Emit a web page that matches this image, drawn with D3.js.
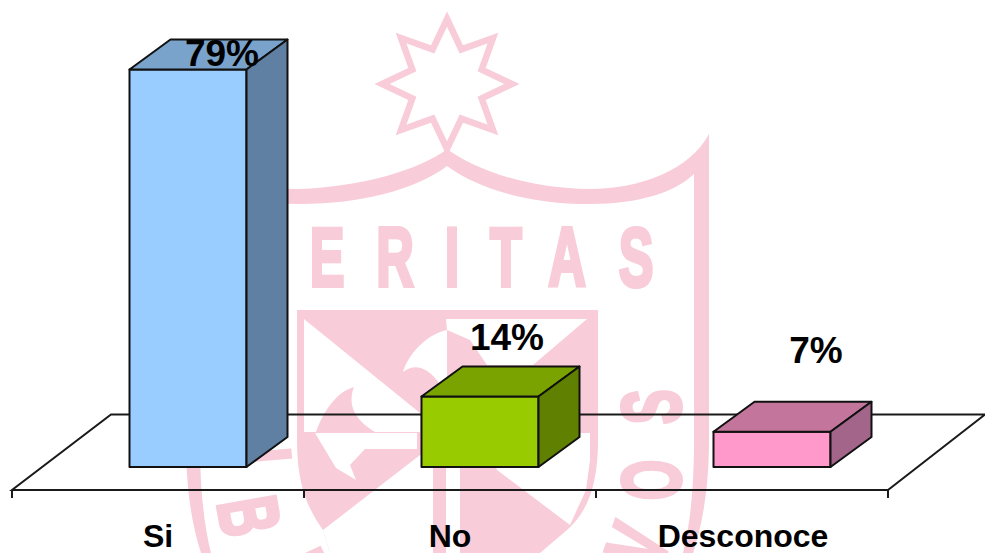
<!DOCTYPE html>
<html><head><meta charset="utf-8"><script src="https://cdn.jsdelivr.net/npm/d3@7"></script>
<style>html,body{margin:0;background:#fff}svg{display:block}</style></head><body>
<svg id="c" width="985" height="553"></svg>
<script>
const categories=["Si","No","Desconoce"];
const values=[79,14,7];
const labels=["79%","14%","7%"];
const frontColors=["#99ccff","#99cc00","#ff99cc"];
const topColors=["#7aa3cc","#7aa300","#c4759c"];
const sideColors=["#5f7fa3","#5f8000","#a3658a"];
const W="#f8ccd8";
const svg=d3.select("#c");

// watermark
const wm=svg.append("g");
const star=d3.range(16).map(i=>{const r=i%2?37.5:65,a=i*Math.PI/8;return [447+r*Math.sin(a),84-r*Math.cos(a)];});
wm.append("path").attr("d",d3.line()(star)+"Z").attr("fill","none").attr("stroke",W).attr("stroke-width",6.5).attr("stroke-linejoin","miter");
// shield outline
wm.append("path").attr("fill",W).attr("fill-rule","evenodd").attr("d",
 "M186,134 C205,175 260,190 300,189 C360,187 420,170 447,149 C475,170 530,189 590,189 C640,189 690,170 709,134 L709,440 C709,490 702,525 693,553 L201,553 C192,525 186,490 186,440 Z "+
 "M200,176 C225,195 260,204 300,204 C360,204 415,190 447,166 C480,190 530,204 590,204 C640,204 675,192 694,174 L694,440 C694,490 690,525 683,553 L211,553 C204,525 200,490 200,440 Z");
// crest panel
wm.append("path").attr("fill",W).attr("d","M297,310 H598 V440 C598,480 590,510 567,530 L540,553 H330 L323,530 C305,505 297,480 297,440 Z");
const whites=[
 "M304,319 L420,413 L420,432 L304,432 Z",
 "M446,319 H587 L533,365 H487 L470,340 L447,330 Z",
 "M447,330 C425,335 408,355 403,372 C415,362 430,368 440,385 L447,400 Z",
 "M315,433 H417 V449 H365 L350,465 L356,480 L336,468 Z",
 "M480,433 H590 V460 L586,490 L570,525 L497,470 Z",
 "M420,455 L323,530 L330,553 H433 V455 Z",
 "M446,440 H460 V553 H446 Z"
];
wm.selectAll("path.w").data(whites).join("path").attr("class","w").attr("fill","#fff").attr("d",d=>d);
wm.append("path").attr("fill",W).attr("d","M354,387 C335,392 322,415 316,432 H375 C355,420 347,405 354,387 Z");
const letters=[["E",327,256,0],["R",395,256,0],["I",452,256,0],["T",506,256,0],["A",567,256,0],["S",636,256,0],
 ["S",650,407,-90],["O",650,480,-90],["V",637,545,-70],["I",262,456,85],["B",250,516,80],["E",300,572,65]];
wm.selectAll("text.l").data(letters).join("text").attr("class","l")
 .attr("transform",d=>`translate(${d[1]},${d[2]}) rotate(${d[3]}) scale(0.62,1)`).attr("y",30)
 .attr("text-anchor","middle").attr("font-family","Liberation Sans").attr("font-weight","700")
 .attr("font-size",84).attr("fill",W).attr("stroke",W).attr("stroke-width",4).text(d=>d[0]);

// floor
const x=d3.scaleBand().domain(categories).range([12,888]);
const y=d3.scaleLinear().domain([0,79]).range([467,69.5]);
const barW=117,off=118,dx=41,dy=30;
const floor=d3.path();floor.moveTo(12,490);floor.lineTo(888,490);floor.lineTo(985,414.5);floor.lineTo(111,414.5);floor.closePath();
svg.append("path").attr("d",floor).attr("fill","none").attr("stroke","#1a1a1a").attr("stroke-width",2);
svg.append("g").selectAll("line").data(d3.range(4)).join("line")
 .attr("x1",i=>12+i*x.bandwidth()).attr("x2",i=>12+i*x.bandwidth()).attr("y1",490).attr("y2",498)
 .attr("stroke","#1a1a1a").attr("stroke-width",2);

// bars
const g=svg.append("g").attr("stroke","#111").attr("stroke-width",2).attr("stroke-linejoin","round");
categories.forEach((c,i)=>{
 const l=x(c)+off-0.5,r=l+barW,t=y(values[i]),b=y(0);
 g.append("rect").attr("x",l).attr("y",t).attr("width",barW).attr("height",b-t).attr("fill",frontColors[i]);
 g.append("path").attr("d",d3.line()([[l,t],[l+dx,t-dy],[r+dx,t-dy],[r,t]])+"Z").attr("fill",topColors[i]);
 g.append("path").attr("d",d3.line()([[r,t],[r+dx,t-dy],[r+dx,b-dy],[r,b]])+"Z").attr("fill",sideColors[i]);
});

// texts
const F="Liberation Sans, Arial, sans-serif";
svg.selectAll("text.v").data(labels).join("text").attr("class","v")
 .attr("x",(d,i)=>[222,507,816][i]).attr("y",(d,i)=>[66,350,363][i]).attr("text-anchor","middle")
 .attr("font-family",F).attr("font-weight","700").attr("font-size",37).attr("fill","#000").text(d=>d);
svg.selectAll("text.c").data(categories).join("text").attr("class","c")
 .attr("x",(d,i)=>[158,450,743][i]).attr("y",547).attr("text-anchor","middle")
 .attr("font-family",F).attr("font-weight","700").attr("font-size",32).attr("fill","#000").text(d=>d);
</script></body></html>
